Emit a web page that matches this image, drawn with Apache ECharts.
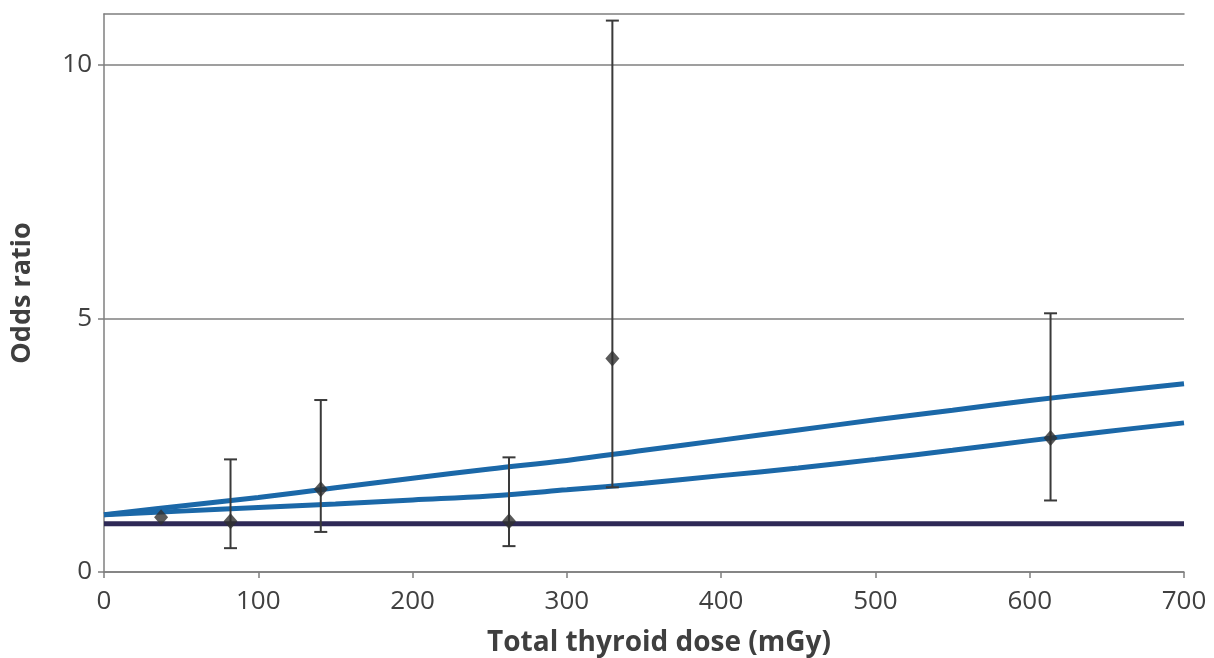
<!DOCTYPE html>
<html>
<head>
<meta charset="utf-8">
<script src="https://cdn.jsdelivr.net/npm/echarts@6/dist/echarts.min.js"></script>
<style>html,body{margin:0;padding:0;background:#fff;}#c{width:1214px;height:658px;}</style>
</head>
<body>
<div id="c"></div>
<script>
// Data
var doses = [37, 82, 140.5, 262.5, 329.5, 613.5];
var oddsRatios = [1.08, 1.0, 1.63, 1.0, 4.21, 2.64];
var ciLower = [1.08, 0.47, 0.79, 0.51, 1.67, 1.41];
var ciUpper = [1.08, 2.22, 3.39, 2.26, 10.87, 5.1];

var curveDoses = [0, 50, 100, 150, 200, 250, 300, 350, 400, 450, 500, 550, 600, 650, 700];
var upperCurve = [1.13, 1.30, 1.47, 1.66, 1.85, 2.03, 2.20, 2.40, 2.60, 2.80, 3.00, 3.19, 3.38, 3.55, 3.71];
var lowerCurve = [1.13, 1.20, 1.27, 1.34, 1.42, 1.50, 1.62, 1.75, 1.90, 2.05, 2.22, 2.40, 2.59, 2.77, 2.94];

var refDoses = [0, 700];
var refLine = [0.95, 0.95];

var xTicks = [0, 100, 200, 300, 400, 500, 600, 700];
var yTicks = [0, 5, 10];

function pairs(xs, ys) { return xs.map(function (x, i) { return [x, ys[i]]; }); }

var chart = echarts.init(document.getElementById('c'));
var font = '"Open Sans", "Noto Sans", sans-serif';
var axisGray = '#7f7f7f';
chart.setOption({
  animation: false,
  grid: { left: 104, right: 30, top: 14, bottom: 86, outerBoundsMode: 'none', containLabel: false },
  xAxis: [{
    type: 'value', min: 0, max: 700, interval: 100,
    name: 'Total thyroid dose (mGy)', nameLocation: 'middle', nameGap: 57,
    nameTextStyle: { fontFamily: font, fontSize: 28, fontWeight: 'bold', color: '#3f3f3f', padding: [0, 0, 0, 30] },
    axisLine: { show: true, lineStyle: { color: axisGray, width: 1.5 } },
    axisTick: { show: true, length: 6, lineStyle: { color: axisGray, width: 1.5 } },
    axisLabel: { fontFamily: font, fontSize: 26, color: '#404040', margin: 17, customValues: xTicks },
    splitLine: { show: false }
  }, {
    type: 'value', min: 0, max: 700, position: 'top',
    axisLine: { show: true, lineStyle: { color: axisGray, width: 1.5 } },
    axisTick: { show: false }, axisLabel: { show: false }, splitLine: { show: false }
  }],
  yAxis: {
    type: 'value', min: 0, max: 11, interval: 5,
    name: 'Odds ratio', nameLocation: 'middle', nameGap: 68, nameRotate: 90,
    nameTextStyle: { fontFamily: font, fontSize: 27, fontWeight: 'bold', color: '#3f3f3f' },
    axisLine: { show: true, lineStyle: { color: axisGray, width: 1.5 } },
    axisTick: { show: true, length: 6, lineStyle: { color: axisGray, width: 1.5 }, customValues: yTicks },
    axisLabel: { fontFamily: font, fontSize: 26, color: '#404040', margin: 12, customValues: yTicks },
    splitLine: { show: true, lineStyle: { color: axisGray, width: 1.5 } }
  },
  series: [
    {
      type: 'line', data: pairs(refDoses, refLine), symbol: 'none', z: 3,
      lineStyle: { color: '#2e2956', width: 5 }
    },
    {
      type: 'line', data: pairs(curveDoses, upperCurve), symbol: 'none', smooth: 0.4, z: 3,
      lineStyle: { color: '#1b68a8', width: 5 }
    },
    {
      type: 'line', data: pairs(curveDoses, lowerCurve), symbol: 'none', smooth: 0.4, z: 3,
      lineStyle: { color: '#1b68a8', width: 5 }
    },
    {
      type: 'custom', z: 4,
      data: doses.map(function (d, i) { return [d, ciLower[i], ciUpper[i]]; }),
      renderItem: function (params, api) {
        var lo = api.coord([api.value(0), api.value(1)]);
        var hi = api.coord([api.value(0), api.value(2)]);
        if (Math.abs(hi[1] - lo[1]) < 1) return { type: 'group', children: [] };
        var w = 6.5;
        var st = { stroke: '#3a3a3a', lineWidth: 2 };
        return {
          type: 'group',
          children: [
            { type: 'line', shape: { x1: lo[0], y1: lo[1], x2: hi[0], y2: hi[1] }, style: st },
            { type: 'line', shape: { x1: lo[0] - w, y1: lo[1], x2: lo[0] + w, y2: lo[1] }, style: st },
            { type: 'line', shape: { x1: hi[0] - w, y1: hi[1], x2: hi[0] + w, y2: hi[1] }, style: st }
          ]
        };
      }
    },
    {
      type: 'scatter', data: pairs(doses, oddsRatios), symbol: 'diamond', symbolSize: [14, 16], z: 5,
      itemStyle: { color: '#2f2f2f' }
    }
  ]
});
</script>
</body>
</html>
